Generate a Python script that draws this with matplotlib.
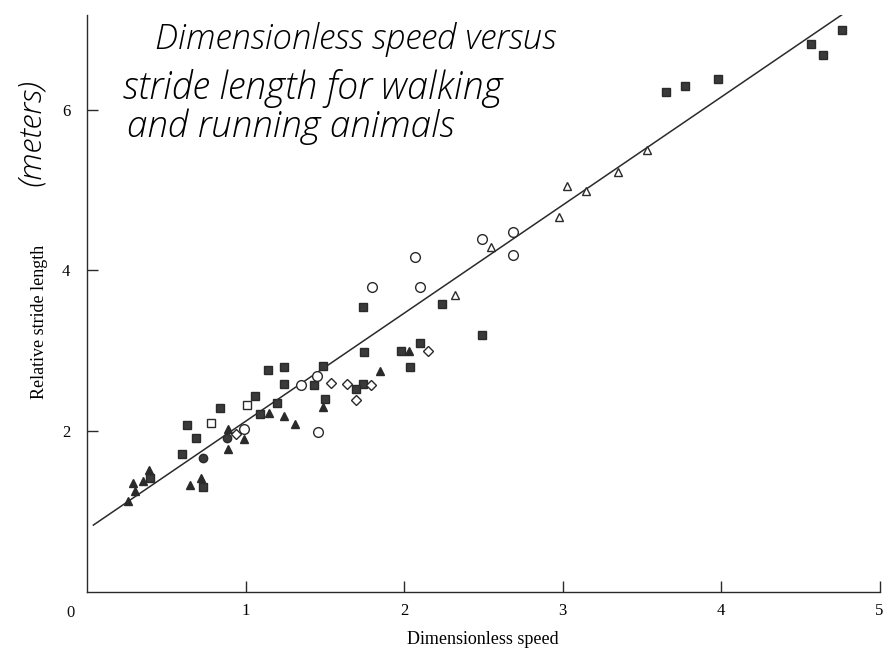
import matplotlib
matplotlib.use("Agg")
import matplotlib.pyplot as plt

# ── data ─────────────────────────────────────────────────────────────────────
sq_filled_x = [0.40, 0.73, 0.60, 0.63, 0.69, 0.84, 1.06, 1.09, 1.14, 1.24, 1.49, 1.24,
               1.43, 1.74, 1.70, 2.04, 1.20, 1.50, 1.75, 1.98, 2.10, 1.74, 2.24, 2.49,
               3.65, 3.77, 3.98, 4.57, 4.64, 4.76]
sq_filled_y = [1.41, 1.30, 1.72, 2.08, 1.91, 2.29, 2.44, 2.21, 2.76, 2.80, 2.81, 2.59,
               2.58, 2.59, 2.52, 2.80, 2.35, 2.40, 2.99, 3.00, 3.10, 3.54, 3.58, 3.19,
               6.22, 6.30, 6.38, 6.82, 6.68, 6.99]

tri_filled_x = [0.26, 0.30, 0.29, 0.35, 0.39, 0.65, 0.72, 0.89, 0.89, 0.99, 1.15, 1.24,
                1.31, 1.49, 1.85, 2.03]
tri_filled_y = [1.13, 1.26, 1.35, 1.38, 1.52, 1.33, 1.42, 2.03, 1.78, 1.90, 2.22, 2.19,
                2.09, 2.30, 2.75, 3.00]

circ_filled_x = [0.73, 0.88]
circ_filled_y = [1.66, 1.91]

sq_open_x = [0.78, 1.01]
sq_open_y = [2.10, 2.32]

circ_open_x = [0.99, 1.35, 1.45, 1.46, 1.80, 2.10, 2.07, 2.49, 2.69, 2.69]
circ_open_y = [2.03, 2.58, 2.69, 1.99, 3.79, 3.79, 4.17, 4.39, 4.48, 4.19]

diam_open_x = [0.94, 1.54, 1.64, 1.79, 1.70, 2.15]
diam_open_y = [1.97, 2.60, 2.59, 2.58, 2.39, 3.00]

tri_open_x = [2.32, 2.55, 2.98, 3.03, 3.15, 3.35, 3.53]
tri_open_y = [3.70, 4.29, 4.67, 5.05, 4.99, 5.22, 5.50]

# fitted line, end points
fit_x = [0.04, 4.79]
fit_y = [0.83, 7.22]

# ── figure ───────────────────────────────────────────────────────────────────
fig = plt.figure(figsize=(8.88, 6.51), dpi=100)
ax = fig.add_axes([0.098, 0.091, 0.8925, 0.886])
ax.set_xlim(0, 5)
ax.set_ylim(0, 7.18)

ink = "#2a2a2a"
ax.plot(fit_x, fit_y, color=ink, linewidth=1.1, zorder=2)

common = dict(linestyle="none", zorder=3, markeredgewidth=1.0)
ax.plot(sq_filled_x, sq_filled_y, marker="s", markersize=5.5, color="#3a3a3a",
        markeredgecolor="#2a2a2a", **common)
ax.plot(tri_filled_x, tri_filled_y, marker="^", markersize=6, color="#2a2a2a",
        markeredgecolor="#2a2a2a", **common)
ax.plot(circ_filled_x, circ_filled_y, marker="o", markersize=6, color="#3a3a3a",
        markeredgecolor="#2a2a2a", **common)
ax.plot(sq_open_x, sq_open_y, marker="s", markersize=6, markerfacecolor="white",
        markeredgecolor=ink, **common)
ax.plot(circ_open_x, circ_open_y, marker="o", markersize=7, markerfacecolor="white",
        markeredgecolor=ink, **common)
ax.plot(diam_open_x, diam_open_y, marker="D", markersize=5.5, markerfacecolor="white",
        markeredgecolor=ink, **common)
ax.plot(tri_open_x, tri_open_y, marker="^", markersize=6, markerfacecolor="white",
        markeredgecolor=ink, **common)

for s in ("top", "right"):
    ax.spines[s].set_visible(False)
for s in ("left", "bottom"):
    ax.spines[s].set_color(ink)
    ax.spines[s].set_linewidth(1.0)

serif = ["Liberation Serif", "DejaVu Serif"]
ax.set_xticks([1, 2, 3, 4, 5])
ax.set_xticklabels(["1", "2", "3", "4", "5"], family=serif, fontsize=12)
ax.set_yticks([2, 4, 6])
ax.set_yticklabels(["2", "4", "6"], family=serif, fontsize=12)
ax.tick_params(direction="in", length=8, width=1.0, color=ink, pad=8)
ax.tick_params(axis="y", pad=12)
ax.text(-0.08, -0.16, "0", transform=ax.transData, ha="right", va="top",
        family=serif, fontsize=12, color="#111")

ax.set_xlabel("Dimensionless speed", family=serif, fontsize=13, labelpad=9)
fig.text(0.045, 0.505, "Relative stride length", rotation=90, ha="center", va="center",
         family=serif, fontsize=13)

# handwritten annotations (thin slanted strokes)
hand = dict(family=["Open Sans", "DejaVu Sans"], style="italic", fontweight="light",
            color="black")
fig.text(0.175, 0.925, "Dimensionless speed versus", fontsize=25, **hand)
fig.text(0.138, 0.848, "stride length for walking", fontsize=27, **hand)
fig.text(0.143, 0.790, "and running animals", fontsize=26.5, **hand)
fig.text(0.035, 0.797, "(meters)", rotation=90, ha="center", va="center",
         fontsize=23, **hand)

fig.savefig("out.png", dpi=100)
